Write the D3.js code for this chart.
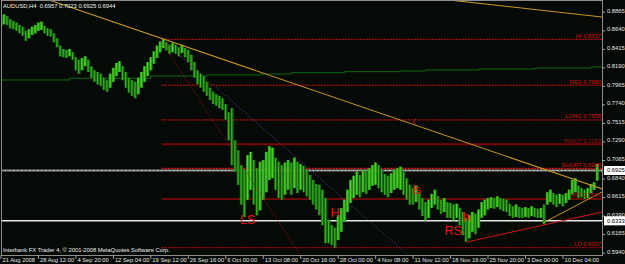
<!DOCTYPE html>
<html><head><meta charset="utf-8">
<script src="https://cdn.jsdelivr.net/npm/d3@7"></script>
<style>
html,body{margin:0;padding:0;background:#050a07;}
svg{display:block;}
text{font-family:"Liberation Sans",Arial,sans-serif;}
</style></head><body>
<svg id="c" width="625" height="264"></svg>
<script>
// ---------- data ----------
const barHigh = [
.880,.884,.882,.878,.876,.874,.871,.869,.864,.866,.869,.871,
.874,.875,.870,.867,.866,.861,.855,.846,.842,.841,.842,.838,
.832,.829,.831,.833,.829,.821,.816,.814,.812,.807,.804,.812,
.819,.825,.827,.821,.814,.807,.804,.802,.807,.814,.821,.826,
.832,.839,.846,.851,.8537,.850,.847,.849,.847,.844,.847,.843,
.841,.835,.826,.816,.812,.809,.802,.795,.790,.787,.785,.782,
.775,.765,.770,.731,.719,.701,.695,.713,.717,.707,.697,.705,
.707,.717,.724,.722,.710,.705,.701,.704,.707,.704,.710,.705,
.702,.700,.695,.689,.683,.678,.677,.671,.661,.634,.628,.625,
.640,.649,.659,.671,.683,.688,.693,.689,.695,.693,.697,.701,
.704,.701,.695,.690,.688,.691,.695,.697,.699,.693,.685,.677,
.673,.676,.668,.661,.656,.659,.666,.671,.663,.659,.661,.656,
.655,.653,.654,.649,.644,.637,.640,.644,.642,.647,.656,.659,
.661,.662,.661,.663,.661,.660,.659,.654,.651,.653,.650,.649,
.650,.649,.651,.649,.648,.649,.653,.668,.671,.667,.665,.666,
.665,.667,.671,.683,.685,.676,.673,.671,.673,.678,.680,.7023];
const barLow = [
.870,.872,.871,.867,.866,.864,.861,.858,.852,.855,.859,.861,
.864,.865,.861,.858,.857,.850,.844,.833,.832,.831,.833,.829,
.816,.812,.816,.821,.814,.807,.802,.799,.797,.792,.790,.795,
.802,.809,.814,.804,.795,.789,.785,.782,.787,.795,.802,.809,
.816,.824,.831,.838,.843,.840,.836,.838,.836,.833,.837,.832,
.826,.816,.807,.799,.795,.790,.785,.780,.775,.773,.770,.768,
.756,.731,.701,.693,.677,.653,.638,.659,.671,.653,.640,.646,
.659,.668,.683,.685,.671,.661,.659,.665,.671,.665,.673,.667,
.671,.668,.663,.659,.653,.647,.640,.628,.606,.606,.604,.6007,
.610,.620,.632,.644,.655,.661,.665,.662,.668,.666,.671,.676,
.677,.673,.668,.665,.662,.667,.671,.673,.671,.665,.659,.653,
.653,.656,.647,.639,.634,.637,.649,.653,.647,.642,.644,.637,
.637,.634,.637,.628,.616,.608,.612,.620,.617,.625,.637,.640,
.647,.649,.648,.650,.647,.645,.644,.639,.637,.638,.637,.637,
.638,.637,.639,.638,.637,.637,.629,.653,.656,.653,.650,.654,
.651,.655,.659,.665,.668,.661,.662,.660,.661,.667,.671,.682];
const dateLabels = ["21 Aug 2008","28 Aug 12:00","4 Sep 20:00","12 Sep 04:00","19 Sep 12:00","26 Sep 16:00","6 Oct 00:00","13 Oct 08:00","20 Oct 16:00","28 Oct 00:00","4 Nov 08:00","11 Nov 12:00","18 Nov 16:00","25 Nov 20:00","3 Dec 00:00","10 Dec 04:00"];
const dateLabelBars = [0,12,24,36,48,60,72,84,96,108,120,132,144,156,168,180];
const priceTicks = [0.8865,0.8640,0.8415,0.8190,0.7965,0.7740,0.7515,0.7290,0.7065,0.6840,0.6615,0.6390,0.6165,0.5940];
const levelNames = ["HI","RES","LONG","PIVOT","SHORT","SPT","LO"];
const levelValues = [0.8537,0.7980,0.7558,0.7263,0.6968,0.6598,0.6007];
const levelStartBar = 51.5;
const maBars = [0,22,48,66,83,93,110,128,136,153,171,189,193];
const maValues = [0.8043,0.8063,0.8091,0.8104,0.8116,0.8131,0.8144,0.8152,0.8164,0.8176,0.8188,0.8201,0.8201];
const patternNames = ["LS","H","ls","h","RS"];
const patternBars = [79,107,133.2,149,144.8];
const patternPrices = [0.6343,0.6428,0.6707,0.6380,0.6210];
// trendlines: [bar1, price1, bar2, price2]
const trendOrange1 = [17.3,0.899,192.5,0.672];
const trendOrange2 = [146.4,0.9002,192.5,0.8808];
const trendRedDiag = [51.5,0.8504,94.2,0.6015];
const trendPurple = [51.5,0.8528,130,0.5930];
const trendRedUp = [149.3,0.6076,192.5,0.6440];
const trendOrangeUp = [173.6,0.6307,192.5,0.6683];
const bidPrice = 0.6944, bidLabel = "0.6925";
const hLinePrice = 0.6333, hLineLabel = "0.6333";
const markerBar = 132, markerPrice = 0.7533;
const header = "AUDUSD,H4  0.6957 0.7023 0.6925 0.6944";
const footer = "Interbank FX Trader 4, \u00A9 2001-2008 MetaQuotes Software Corp.";

(function () {
// ---------- layout ----------
const W = 625, H = 264, pL = 1, pR = 602, pT = 0, pB = 255;
const svg = d3.select("#c");
const x = d3.scaleLinear().domain([0, 192]).range([1, 1 + 192 * 3.122]);
const y = d3.scaleLinear().domain([0.5918, 0.9014]).range([pB, pT]);
const step = x(1) - x(0);

svg.append("rect").attr("width", W).attr("height", H).attr("fill", "#050a07");
svg.append("defs").append("clipPath").attr("id", "pc")
  .append("rect").attr("x", pL + 1).attr("y", 1).attr("width", pR - pL - 1).attr("height", pB - 1);
const plot = svg.append("g").attr("clip-path", "url(#pc)");

// MA line
plot.append("path")
  .datum(maBars.map((b, i) => [b, maValues[i]]))
  .attr("d", d3.line().x(d => x(d[0])).y(d => y(d[1])).curve(d3.curveStepAfter))
  .attr("fill", "none").attr("stroke", "#0f6a0f").attr("stroke-width", 1);

// level lines
const levelStyle = {
  HI: {c: "#e01010", w: 1, dash: "2,1"}, RES: {c: "#e01010", w: 1, dash: "2,1"},
  LONG: {c: "#e01010", w: 1, dash: "2,1"}, PIVOT: {c: "#7a0606", w: 2, dash: null},
  SHORT: {c: "#e01010", w: 1.3, dash: "2,1"}, SPT: {c: "#8e0a0a", w: 1.5, dash: null},
  LO: {c: "#a00a0a", w: 1.3, dash: "2,1"}
};
levelNames.forEach((n, i) => {
  const s = levelStyle[n];
  plot.append("line").attr("x1", x(levelStartBar)).attr("x2", pR)
    .attr("y1", y(levelValues[i])).attr("y2", y(levelValues[i]))
    .attr("stroke", s.c).attr("stroke-width", s.w).attr("stroke-dasharray", s.dash);
});

// horizontal lines (bid + user line)
plot.append("line").attr("x1", pL).attr("x2", pR).attr("y1", y(bidPrice)).attr("y2", y(bidPrice))
  .attr("stroke", "#8a8a8a").attr("stroke-width", 2.2);
plot.append("line").attr("x1", pL).attr("x2", pR).attr("y1", y(bidPrice)).attr("y2", y(bidPrice))
  .attr("stroke", "#dcdcdc").attr("stroke-width", 1).attr("stroke-dasharray", "1,3");
plot.append("line").attr("x1", pL).attr("x2", pR).attr("y1", y(hLinePrice)).attr("y2", y(hLinePrice))
  .attr("stroke", "#e8e8e8").attr("stroke-width", 1.6);

// bars
const bars = barHigh.map((h, i) => ({i, h, l: barLow[i]}));
const up = (d, k) => k === 0 || (d.h + d.l) >= (bars[k - 1].h + bars[k - 1].l);
plot.selectAll("rect.bar").data(bars).enter().append("rect")
  .attr("class", "bar")
  .attr("x", d => x(d.i) - step / 2)
  .attr("width", step)
  .attr("y", d => y(d.h))
  .attr("height", d => Math.max(1, y(d.l) - y(d.h)))
  .attr("fill", (d, k) => up(d, k) ? "#28961a" : "#176510");
plot.selectAll("line.wick").data(bars).enter().append("line")
  .attr("x1", d => x(d.i) - 0.3).attr("x2", d => x(d.i) - 0.3)
  .attr("y1", d => y(d.h)).attr("y2", d => y(d.l))
  .attr("stroke", (d, k) => up(d, k) ? "#4fd82a" : "#3bb41f").attr("stroke-width", 1.1);

// trendlines
function trend(t, color, width, dash, extendLeft) {
  const slope = (t[3] - t[1]) / (t[2] - t[0]);
  const b0 = extendLeft ? 0 : t[0];
  const b1 = 194;
  plot.append("line")
    .attr("x1", x(b0)).attr("y1", y(t[1] + slope * (b0 - t[0])))
    .attr("x2", x(b1)).attr("y2", y(t[1] + slope * (b1 - t[0])))
    .attr("stroke", color).attr("stroke-width", width).attr("stroke-dasharray", dash);
}
trend(trendOrange1, "#c8961e", 1.1, null, true);
trend(trendOrange2, "#c8961e", 1.1, null, true);
trend(trendRedDiag, "#b01818", 1, "1,2", false);
trend(trendPurple, "#6a48b8", 1, "1,2", false);
trend(trendRedUp, "#d01818", 1, null, false);
trend(trendOrangeUp, "#c8961e", 1, null, false);

// level labels
levelNames.forEach((n, i) => {
  plot.append("text").attr("x", pR - 1).attr("y", y(levelValues[i]) - 1.5)
    .attr("text-anchor", "end").attr("font-size", 5.8)
    .attr("fill", (n === "PIVOT" || n === "SPT") ? "#a01010" : "#d81414")
    .text(n + " " + levelValues[i].toFixed(4));
});

// pattern labels
patternNames.forEach((n, i) => {
  plot.append("text").attr("x", x(patternBars[i])).attr("y", y(patternPrices[i]))
    .attr("text-anchor", "middle").attr("dominant-baseline", "central")
    .attr("font-size", 12.5).attr("fill", "#e81010").text(n);
});

// marker
const mx = x(markerBar), my = y(markerPrice);
plot.append("path").attr("d", `M${mx + 3},${my - 3}L${mx},${my}L${mx + 3},${my + 3}`)
  .attr("fill", "none").attr("stroke", "#d01818").attr("stroke-width", 1);

// frame
svg.append("rect").attr("x", pL + 0.5).attr("y", 0.5).attr("width", pR - pL).attr("height", pB)
  .attr("fill", "none").attr("stroke", "#8c8c8c").attr("stroke-width", 1);

// right axis
const yAxis = svg.append("g");
priceTicks.forEach(v => {
  yAxis.append("line").attr("x1", pR).attr("x2", pR + 3).attr("y1", y(v)).attr("y2", y(v))
    .attr("stroke", "#a0a0a0");
  yAxis.append("text").attr("x", pR + 5).attr("y", y(v) - 1.5).attr("dominant-baseline", "central")
    .attr("font-size", 5.8).attr("fill", "#e6e6e6").text(v.toFixed(4));
});
[[bidPrice, bidLabel], [hLinePrice, hLineLabel]].forEach(([p, lab]) => {
  yAxis.append("rect").attr("x", pR + 2).attr("y", y(p) - 4.5).attr("width", W - pR - 2).attr("height", 9)
    .attr("fill", "#ffffff");
  yAxis.append("text").attr("x", pR + 5).attr("y", y(p)).attr("dominant-baseline", "central")
    .attr("font-size", 5.8).attr("fill", "#000").text(lab);
});

// bottom axis
const xAxis = svg.append("g");
dateLabels.forEach((lab, i) => {
  const xx = x(dateLabelBars[i]);
  xAxis.append("line").attr("x1", xx).attr("x2", xx).attr("y1", pB).attr("y2", pB + 4)
    .attr("stroke", "#a0a0a0");
  xAxis.append("text").attr("x", xx + 1.5).attr("y", 260).attr("dominant-baseline", "central")
    .attr("font-size", 5.8).attr("fill", "#e6e6e6").text(lab);
});

// header / footer
svg.append("text").attr("x", 3).attr("y", 6).attr("dominant-baseline", "central")
  .attr("font-size", 5.8).attr("fill", "#f0f0f0").attr("xml:space", "preserve").text(header);
svg.append("text").attr("x", 3).attr("y", 249.5).attr("dominant-baseline", "central")
  .attr("font-size", 5.8).attr("fill", "#f0f0f0").text(footer);
})();
</script>
</body></html>
